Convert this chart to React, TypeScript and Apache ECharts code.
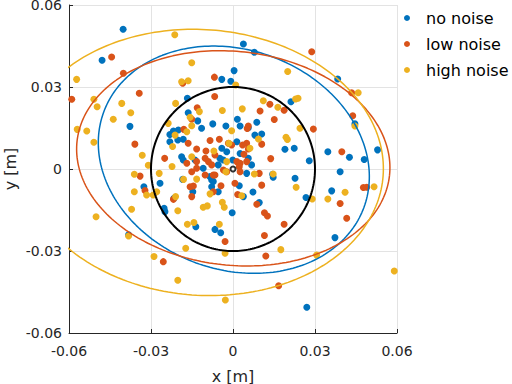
import React, { useEffect, useRef } from "react";
import * as echarts from "echarts";

const seriesNames = ["no noise", "low noise", "high noise"];
const seriesColors = ["#0072BD", "#D95319", "#EDB120"];

const noNoise: [number, number][] = [
  [-0.0402, 0.0511], [-0.0479, 0.0398], [-0.0377, 0.0156], [-0.0382, -0.0241], [-0.0326, -0.0065],
  [-0.0267, -0.0052], [-0.0252, -0.0144], [-0.0249, -0.0156], [-0.0216, -0.0107], [-0.0184, -0.0038],
  [-0.0147, -0.0083], [-0.0136, -0.0211], [-0.0066, -0.0221], [-0.0045, -0.0233], [-0.0003, -0.016],
  [0.0073, -0.0084], [0.0096, -0.0123], [0.0038, -0.0101], [0.0023, -0.0061], [0.0147, -0.003],
  [-0.0078, -0.004], [0.0227, -0.0034], [0.0267, -0.0104], [0.0361, -0.008], [0.0373, -0.0251],
  [0.027, -0.0506], [0.0392, -0.001], [0.0038, 0.0457], [0.0078, 0.0427], [0.0383, 0.0329],
  [0.0004, 0.036], [-0.0041, 0.0328], [-0.0008, 0.0321], [0.0212, 0.0246], [0.0016, 0.0182],
  [0.0026, 0.0157], [-0.0026, 0.0157], [0.0087, 0.0171], [-0.0074, 0.0165], [-0.0115, 0.0149],
  [0.0446, 0.0165], [0.008, 0.0124], [0.0105, 0.0128], [0.019, 0.0072], [0.0224, 0.0076],
  [0.0347, 0.0063], [0.0426, 0.0043], [0.048, 0.0035], [0.0529, 0.007], [0.0279, 0.003],
  [-0.0167, 0.0259], [-0.0164, 0.0206], [-0.0129, 0.0176], [-0.0218, 0.0139], [-0.0231, 0.0126],
  [-0.02, 0.0143], [-0.0182, 0.0109], [-0.0202, 0.0106], [-0.0231, 0.01], [-0.0188, 0.0045],
  [-0.0182, 0.0033], [0.0014, 0.01], [-0.0041, 0.0076], [-0.0023, 0.0063], [-0.0048, 0.0039],
  [-0.0035, 0.0033], [-0.0139, 0.0033], [0.0056, 0.0039], [0.0068, 0.0015], [0.005, -0.0016],
  [0.0145, -0.0019], [-0.0084, -0.0028], [-0.0072, -0.0046], [-0.0078, -0.0065], [-0.0054, -0.0083],
  [0.0056, 0.0151], [-0.0001, 0.0033], [0.0026, 0.0057], [-0.0054, 0.0015], [-0.0109, 0.0003],
];

const lowNoise: [number, number][] = [
  [-0.0444, 0.041], [-0.0401, 0.035], [-0.059, 0.0255], [-0.0184, 0.0314], [-0.0343, 0.0277],
  [-0.0359, 0.0091], [-0.0131, 0.0224], [-0.018, 0.0145], [-0.0164, 0.0094], [-0.025, 0.0039],
  [-0.0169, 0.0021], [-0.0133, 0.0073], [-0.034, -0.0026], [-0.0322, -0.0079], [-0.0218, -0.0111],
  [-0.0157, -0.0065], [-0.0145, -0.0062], [-0.0151, -0.0101], [-0.0255, -0.0339], [0.012, -0.0318],
  [0.0167, -0.0427], [0.0392, -0.0126], [0.0416, -0.018], [0.0477, -0.0068], [0.0489, -0.0067],
  [0.0115, -0.0243], [0.0187, -0.0202], [0.0115, -0.016], [0.0126, -0.0172], [0.0087, -0.0129],
  [0.0105, -0.0059], [0.0096, -0.0016], [0.0017, -0.0093], [0.0007, -0.0052], [-0.0029, -0.0265],
  [-0.0072, -0.0083], [-0.0044, -0.0061], [-0.0066, -0.0022], [0.0288, 0.0429], [0.0434, 0.0279],
  [-0.0068, 0.0336], [-0.0067, 0.0265], [0.0135, 0.0237], [0.0187, 0.0215], [0.0099, 0.0212],
  [0.0151, 0.0181], [0.0056, 0.0157], [0.0052, 0.0148], [0.0294, 0.0146], [0.0438, 0.0195],
  [0.0105, 0.0091], [0.0138, 0.0038], [0.0398, 0.0063], [-0.0151, 0.0182], [-0.0084, 0.0104],
  [-0.005, 0.0109], [0.005, 0.0094], [-0.0017, 0.0094], [-0.0005, 0.0088], [0.0035, 0.0088],
  [0.0056, 0.0073], [0.004, 0.0054], [-0.0066, 0.0051], [-0.0102, 0.0039], [-0.009, 0.0027],
  [-0.0133, 0.0027], [-0.0078, 0.0015], [0.0014, 0.0027], [0.0026, 0.0021], [0.005, 0.0027],
  [-0.0035, -0.0004], [-0.0023, -0.001], [0.0023, 0.0008], [0.0026, -0.001], [-0.0133, 0.0003],
  [-0.0151, -0.001], [-0.0102, -0.0022], [-0.0072, -0.0022], [-0.0099, 0.0066],
];

const highNoise: [number, number][] = [
  [-0.0213, 0.0491], [-0.0572, 0.0328], [-0.0151, 0.0389], [-0.0188, 0.0319], [-0.0164, 0.0323],
  [-0.0509, 0.0255], [-0.0497, 0.0228], [-0.0407, 0.024], [-0.0374, 0.0206], [-0.0438, 0.0182],
  [-0.057, 0.0145], [-0.0535, 0.0139], [-0.0509, 0.0098], [-0.0332, 0.005], [-0.031, 0.0014],
  [-0.021, 0.024], [-0.0157, 0.0189], [-0.0151, 0.0158], [-0.0237, 0.0167], [-0.0221, 0.0082],
  [-0.0223, 0.0009], [-0.0151, 0.0045], [-0.0361, -0.0019], [-0.0361, -0.0083], [-0.0371, -0.0147],
  [-0.0501, -0.0175], [-0.0382, -0.0245], [-0.027, -0.0016], [-0.0316, -0.0095], [-0.0292, -0.0095],
  [-0.0279, -0.0083], [-0.0202, -0.0153], [-0.021, -0.0101], [-0.0181, -0.0038], [-0.0167, -0.0202],
  [-0.0143, -0.0196], [-0.0173, -0.029], [-0.0289, -0.032], [-0.0202, -0.0407], [-0.0133, -0.0037],
  [-0.0029, -0.0308], [0.0175, -0.0295], [0.0306, -0.0315], [-0.0028, -0.0479], [0.0231, -0.0067],
  [0.029, -0.011], [0.041, -0.0085], [0.0347, -0.011], [0.0516, -0.0065], [0.059, -0.0373],
  [0.0147, -0.0018], [0.0078, -0.0018], [0.0032, -0.0098], [-0.005, -0.0202], [-0.0039, -0.0122],
  [-0.0032, -0.014], [-0.0109, -0.014], [-0.0094, -0.0135], [0.02, 0.0357], [0.0458, 0.0279],
  [0.001, 0.0307], [-0.0039, 0.0214], [0.0034, 0.022], [0.0111, 0.025], [0.0164, 0.0226],
  [0.0229, 0.0256], [0.0238, 0.0259], [-0.0005, 0.014], [0.0245, 0.0149], [0.0446, 0.0157],
  [0.0062, 0.0076], [0.0194, 0.0116], [0.0199, 0.0108], [-0.0123, 0.021], [-0.0212, 0.0124],
  [-0.0169, 0.0136], [-0.0015, 0.0094], [0.0093, 0.011], [-0.007, 0.0066], [-0.0026, -0.001],
  [-0.0084, -0.0091], [-0.0023, 0.0027],
];

const scatterData = [noNoise, lowNoise, highNoise];

// fitted ellipses: centre, semi-axes and rotation (rad) per series
const ellipseCx = [0.0003, 0.0001, -0.0115];
const ellipseCy = [0.0034, 0.0039, 0.0024];
const ellipseA = [0.0507, 0.0575, 0.0666];
const ellipseB = [0.0402, 0.0391, 0.0486];
const ellipseAngle = [-0.35, -0.11, -0.073];

const circleRadius = 0.03;
const axisTicks = [-0.06, -0.03, 0, 0.03, 0.06];

function ellipsePoints(cx: number, cy: number, a: number, b: number, th: number): [number, number][] {
  const pts: [number, number][] = [];
  const n = 240;
  for (let i = 0; i <= n; i++) {
    const t = (2 * Math.PI * i) / n;
    const ex = a * Math.cos(t);
    const ey = b * Math.sin(t);
    pts.push([cx + ex * Math.cos(th) - ey * Math.sin(th), cy + ex * Math.sin(th) + ey * Math.cos(th)]);
  }
  return pts;
}

export default function App() {
  const ref = useRef<HTMLDivElement>(null);
  useEffect(() => {
    if (!ref.current) return;
    const chart = echarts.init(ref.current, null, { renderer: "svg" });
    const font = "DejaVu Sans";
    const textColor = "#262626";
    const axisCommon = {
      type: "value" as const,
      min: axisTicks[0],
      max: axisTicks[axisTicks.length - 1],
      interval: 0.03,
      nameLocation: "middle" as const,
      nameMoveOverlap: false,
      nameTextStyle: { color: textColor, fontFamily: font, fontSize: 16, lineHeight: 16 },
      axisLine: { show: true, onZero: false, lineStyle: { color: textColor, width: 1 } },
      axisTick: { show: true, inside: true, length: 4, lineStyle: { color: textColor } },
      splitLine: { show: true, lineStyle: { color: "#e3e3e3", width: 1 } },
    };
    const labelFmt = (v: number) => (Math.abs(v) < 1e-9 ? "0" : String(+v.toFixed(2)));
    const series: any[] = [];
    scatterData.forEach((d, i) => {
      series.push({
        name: seriesNames[i],
        type: "scatter",
        data: d,
        symbol: "circle",
        symbolSize: 7,
        itemStyle: { color: seriesColors[i], opacity: 1 },
        z: 2,
      });
    });
    ellipseCx.forEach((cx, i) => {
      series.push({
        name: seriesNames[i] + " ellipse",
        type: "line",
        data: ellipsePoints(cx, ellipseCy[i], ellipseA[i], ellipseB[i], ellipseAngle[i]),
        showSymbol: false,
        clip: true,
        lineStyle: { color: seriesColors[i], width: 1.5 },
        z: 3,
        silent: true,
      });
    });
    series.push({
      name: "circle",
      type: "line",
      data: ellipsePoints(0, 0, circleRadius, circleRadius, 0),
      showSymbol: false,
      lineStyle: { color: "#000000", width: 2 },
      z: 4,
      silent: true,
    });
    series.push({
      name: "origin",
      type: "scatter",
      data: [[0, 0]],
      symbol: "emptyCircle",
      symbolSize: 5,
      itemStyle: { color: "#000000", borderColor: "#000000", borderWidth: 1.5 },
      z: 5,
    });
    chart.setOption({
      animation: false,
      backgroundColor: "#ffffff",
      grid: {
        left: 69,
        top: 5,
        width: 328,
        height: 328,
        containLabel: false,
        outerBoundsMode: "none",
      },
      legend: {
        data: seriesNames,
        orient: "vertical",
        left: 399,
        top: 5,
        icon: "circle",
        itemWidth: 28,
        itemHeight: 6,
        itemGap: 10,
        textStyle: { color: "#000000", fontFamily: font, fontSize: 16, lineHeight: 16 },
      },
      xAxis: {
        ...axisCommon,
        name: "x [m]",
        nameGap: 35,
        axisLabel: { color: textColor, fontFamily: font, fontSize: 14, margin: 11, formatter: labelFmt },
      },
      yAxis: {
        ...axisCommon,
        name: "y [m]",
        nameGap: 51,
        axisLabel: {
          color: textColor,
          fontFamily: font,
          fontSize: 14,
          lineHeight: 11,
          margin: 7,
          formatter: labelFmt,
        },
      },
      series,
    });
    return () => chart.dispose();
  }, []);
  return (
    <div
      ref={ref}
      style={{ position: "absolute", left: 0, top: 0, width: 512, height: 384 }}
    />
  );
}
